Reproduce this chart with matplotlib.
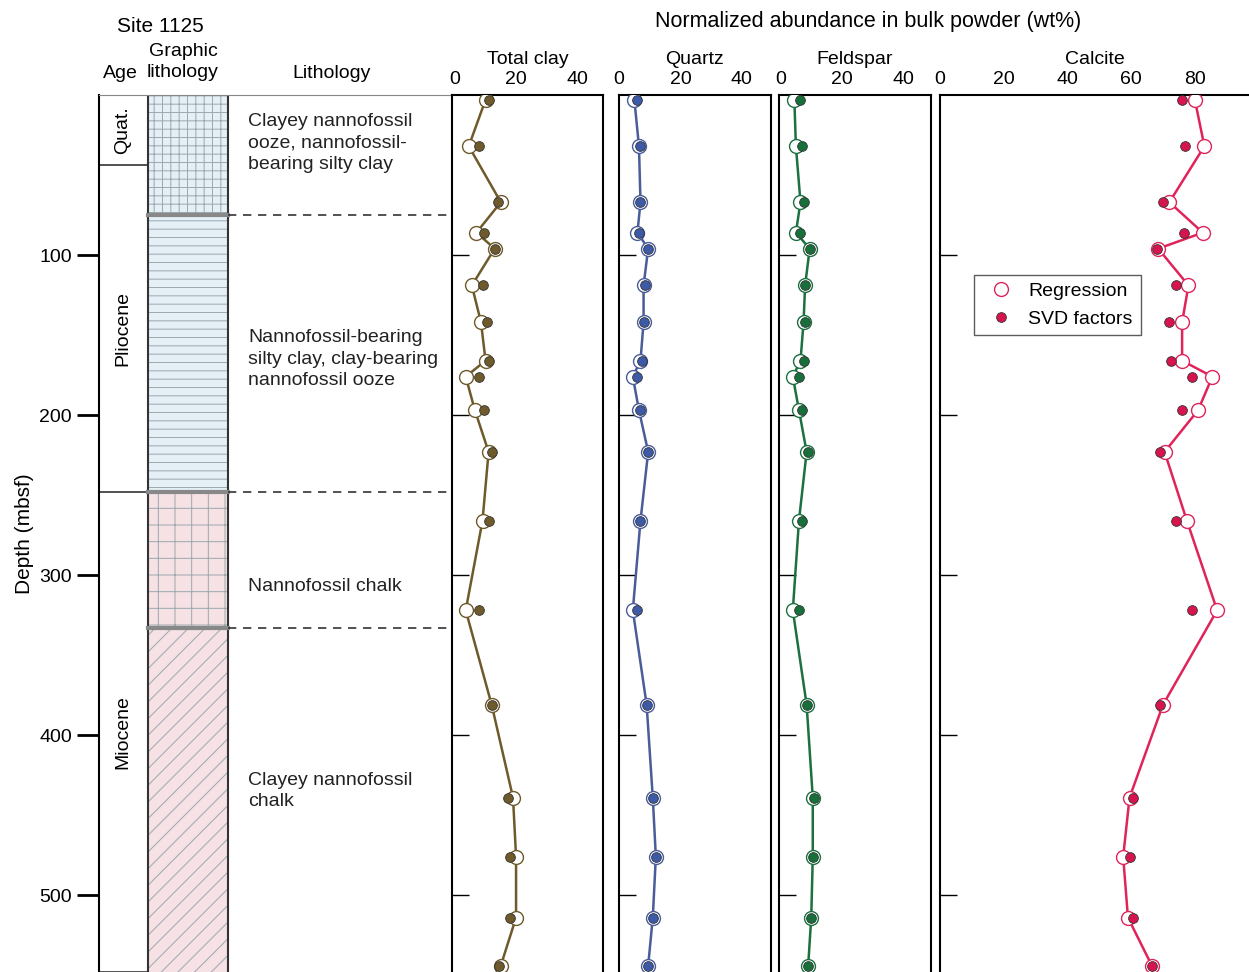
import matplotlib.pyplot as plt
from matplotlib.patches import Rectangle

plt.rcParams['font.family'] = ['Liberation Sans', 'DejaVu Sans']

depth = [3, 32, 67, 86, 96, 119, 142, 166, 176, 197, 223, 266, 322, 381, 439, 476, 514, 544]
clay_reg = [10, 4.5, 15, 7, 13, 5.5, 8.5, 10, 3.5, 6.5, 11, 9, 3.5, 12, 19, 20, 20, 15]
clay_svd = [11, 8, 14, 9.5, 13, 9, 10.5, 11, 8, 9.5, 12, 11, 8, 12, 17.5, 18, 18, 14.5]
qtz_reg = [5, 6.5, 7, 6, 9.5, 8, 8, 7, 4.5, 6.5, 9.5, 7, 4.5, 9, 11, 12, 11, 9.5]
qtz_svd = [6, 7, 7, 6.5, 9.5, 8.5, 8, 7.5, 6, 7, 9.5, 7, 6, 9, 11, 12, 11, 9.5]
fsp_reg = [4.5, 5, 6.5, 5, 9.5, 8, 7.5, 6.5, 4, 6, 8.5, 6, 4, 8.5, 10.5, 10.5, 10, 9]
fsp_svd = [6.5, 7, 7.5, 6.5, 9.5, 8, 8, 7.5, 6, 7, 9, 7, 6, 8.5, 11, 10.5, 10, 9]
cal_reg = [80, 83, 72, 82.5, 68.5, 78, 76, 76, 85.5, 81, 70.5, 77.5, 87, 70, 59.5, 57.5, 59, 66.5]
cal_svd = [76, 77, 70, 76.5, 68, 74, 72, 72.5, 79, 76, 69, 74, 79, 69, 60.5, 59.5, 60.5, 66.5]

ages = [("Quat.", 0, 44), ("Pliocene", 44, 248), ("Miocene", 248, 548)]
units = [(0, 75, "#e4f0f6", "++"), (75, 248, "#e4f0f6", "--"), (248, 333, "#f6e1e4", "-|"), (333, 548, "#f6e1e4", "//")]
unit_text = [(30, "Clayey nannofossil\nooze, nannofossil-\nbearing silty clay"),
             (165, "Nannofossil-bearing\nsilty clay, clay-bearing\nnannofossil ooze"),
             (307, "Nannofossil chalk"),
             (435, "Clayey nannofossil\nchalk")]
boundaries = [75, 248, 333]

W, H = 1249, 972
fig = plt.figure(figsize=(W / 100, H / 100), dpi=100)
plt.rcParams['hatch.color'] = '#9aa8b0'
plt.rcParams['hatch.linewidth'] = 0.7
dmax = 548
top = 95


def ax_px(x0, x1):
    return fig.add_axes([x0 / W, 0, (x1 - x0) / W, (H - top) / H])


# lithology columns
lax = ax_px(99, 452)
lax.set_xlim(99, 452)
lax.set_ylim(dmax, 0)
for s in ['right', 'bottom']:
    lax.spines[s].set_visible(False)
lax.spines['top'].set_color('#888888')
lax.spines['left'].set_linewidth(1.5)
lax.set_xticks([])
lax.set_yticks([100, 200, 300, 400, 500])
lax.tick_params(axis='y', length=16, width=2, labelsize=14)
lax.set_ylabel("Depth (mbsf)", fontsize=15)
for name, a, b in ages:
    lax.plot([99, 148], [b, b], color='#333333', lw=1.2)
    lax.text(123, (a + b) / 2, name, rotation=90, ha='center', va='center', fontsize=14)
for a, b, col, h in units:
    lax.add_patch(Rectangle((148, a), 80, b - a, facecolor=col, edgecolor='#9aa8b0', hatch=h, lw=0))
lax.plot([148, 148], [0, dmax], color='#333333', lw=1.5)
lax.plot([228, 228], [0, dmax], color='#333333', lw=1.5)
for b in boundaries:
    lax.plot([148, 228], [b, b], color='#888888', lw=3)
    lax.plot([228, 447], [b, b], color='#333333', lw=1.2, ls=(0, (5, 4)))
for y, t in unit_text:
    lax.text(248, y, t, ha='left', va='center', fontsize=14, color='#222222', linespacing=1.35)
fig.text(160 / W, 1 - 26 / H, "Site 1125", ha='center', va='center', fontsize=15)
fig.text(183 / W, 1 - 62 / H, "Graphic\nlithology", ha='center', va='center', fontsize=14, linespacing=1.3)
fig.text(120 / W, 1 - 73 / H, "Age", ha='center', va='center', fontsize=14)
fig.text(332 / W, 1 - 73 / H, "Lithology", ha='center', va='center', fontsize=14)
fig.text(868 / W, 1 - 22 / H, "Normalized abundance in bulk powder (wt%)", ha='center', va='center', fontsize=15.5)

panels = [
    (452, 603, (-1, 48.5), "Total clay", clay_reg, clay_svd, '#6e5a2a', '#6e5a2a', True),
    (619, 771, (0, 49.5), "Quartz", qtz_reg, qtz_svd, '#4a5c9a', '#3d5aa8', True),
    (779, 931, (-0.5, 49), "Feldspar", fsp_reg, fsp_svd, '#1d7040', '#17703a', True),
    (940, 1249, (0, 97), "Calcite", cal_reg, cal_svd, '#e0245a', '#d8144e', False),
]
for x0, x1, xl, title, reg, svd, lc, fc, right in panels:
    ax = ax_px(x0, x1)
    ax.set_xlim(*xl)
    ax.set_ylim(dmax, 0)
    ax.spines['bottom'].set_visible(False)
    ax.spines['right'].set_visible(right)
    for s in ['left', 'top', 'right']:
        ax.spines[s].set_linewidth(1.5)
    ax.xaxis.tick_top()
    ticks = [0, 20, 40] if right else [0, 20, 40, 60, 80]
    ax.set_xticks(ticks)
    ax.tick_params(axis='x', length=0, labelsize=14, pad=5)
    ax.set_yticks([100, 200, 300, 400, 500])
    ax.set_yticklabels([])
    ax.tick_params(axis='y', direction='in', length=12, width=1)
    ax.plot(reg, depth, color=lc, lw=1.8, zorder=2)
    ax.plot(reg, depth, 'o', ms=10, mfc='white', mec=lc, mew=1, zorder=3, label="Regression")
    ax.plot(svd, depth, 'o', ms=7, mfc=fc, mec='#333333', mew=0.6, zorder=4, label="SVD factors")
    ax.set_title(title, fontsize=14, pad=22)
    if not right:
        leg = ax.legend(loc='upper left', bbox_to_anchor=(0.11, 0.795), fontsize=14, frameon=True,
                        fancybox=False, edgecolor='#333333', handletextpad=0.4, borderpad=0.4,
                        borderaxespad=0)
        leg.get_frame().set_linewidth(1)

fig.savefig("out.png", dpi=100)
